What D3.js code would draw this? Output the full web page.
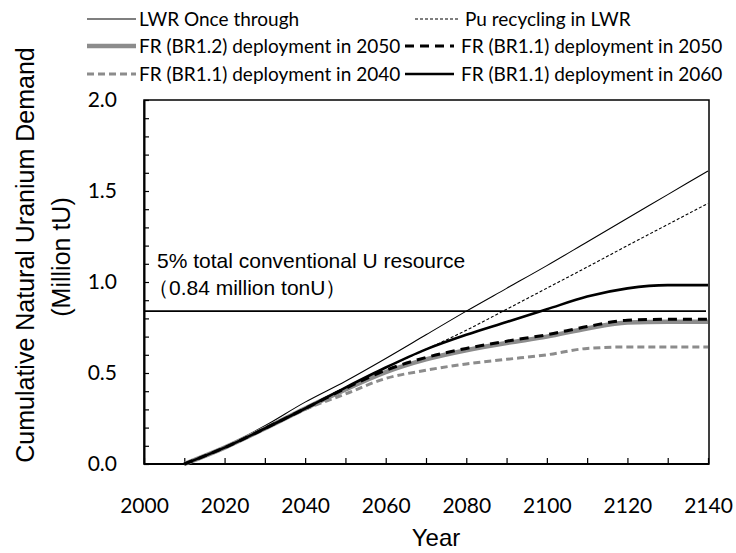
<!DOCTYPE html>
<html>
<head>
<meta charset="utf-8">
<script src="https://cdn.jsdelivr.net/npm/d3@7"></script>
<style>
body { margin: 0; background: #fff; }
svg { display: block; }
</style>
</head>
<body>
<svg id="chart" width="736" height="553"></svg>
<script>
// values, one point every 10 years
const years = [2010, 2020, 2030, 2040, 2050, 2060, 2070, 2080, 2090, 2100, 2110, 2120, 2130, 2140]
const lwrOnce   = [0, 0.095, 0.21, 0.34, 0.455, 0.58, 0.71, 0.84, 0.965, 1.09, 1.22, 1.35, 1.48, 1.61]
const puRecycle = [0, 0.09, 0.195, 0.305, 0.42, 0.53, 0.63, 0.735, 0.85, 0.966, 1.082, 1.2, 1.316, 1.432]
const fr12y2050 = [0, 0.09, 0.195, 0.305, 0.41, 0.505, 0.575, 0.625, 0.665, 0.70, 0.745, 0.778, 0.782, 0.782]
const fr11y2050 = [0, 0.09, 0.195, 0.305, 0.415, 0.515, 0.585, 0.635, 0.675, 0.71, 0.755, 0.79, 0.795, 0.795]
const fr11y2040 = [0, 0.09, 0.195, 0.30, 0.385, 0.47, 0.515, 0.55, 0.575, 0.60, 0.635, 0.643, 0.643, 0.643]
const fr11y2060 = [0, 0.09, 0.195, 0.305, 0.42, 0.53, 0.63, 0.71, 0.78, 0.85, 0.92, 0.965, 0.983, 0.983]
const xLabels = [2000, 2020, 2040, 2060, 2080, 2100, 2120, 2140]
const yLabels = [0, 0.5, 1.0, 1.5, 2.0]
const resourceLimit = 0.84

const LEFT = 144, RIGHT = 708, TOP = 100, BOTTOM = 464
const TICK_FONT = "Lato, 'Liberation Sans', sans-serif"
const TITLE_FONT = "'Liberation Sans', Arial, sans-serif"

var svg = d3.select("#chart")

var x = d3.scaleLinear().domain([2000, 2140]).range([LEFT, RIGHT])
var y = d3.scaleLinear().domain([0, 2]).range([BOTTOM, TOP])

// series styles + legend slot (col, row)
var series = [
    { name: "LWR Once through", values: lwrOnce, color: "#000", width: 1.1, dash: null, col: 0, row: 0 },
    { name: "Pu recycling in LWR", values: puRecycle, color: "#000", width: 1.1, dash: "3,2", col: 1, row: 0 },
    { name: "FR (BR1.2) deployment in 2050", values: fr12y2050, color: "#8c8c8c", width: 4.5, dash: null, col: 0, row: 1 },
    { name: "FR (BR1.1) deployment in 2040", values: fr11y2040, color: "#8c8c8c", width: 3, dash: "7,4", col: 0, row: 2 },
    { name: "FR (BR1.1) deployment in 2060", values: fr11y2060, color: "#000", width: 2.6, dash: null, col: 1, row: 2 },
    { name: "FR (BR1.1) deployment in 2050", values: fr11y2050, color: "#000", width: 3, dash: "9,6", col: 1, row: 1 }
]

// plot frame (top / right sides)
svg.append("rect")
    .attr("x", LEFT).attr("y", TOP)
    .attr("width", RIGHT + 1 - LEFT).attr("height", BOTTOM - TOP)
    .attr("fill", "none")
    .attr("stroke", "#000")
    .attr("stroke-width", 1.5)

// x axis, ticks pointing inward
var xAxis = d3.axisBottom(x)
    .tickValues(d3.range(2000, 2141, 10))
    .tickSize(-6)
    .tickSizeOuter(0)
    .tickPadding(34)
    .tickFormat(d => xLabels.indexOf(d) >= 0 ? d : "")
var gx = svg.append("g")
    .attr("transform", "translate(0," + BOTTOM + ")")
    .call(xAxis)
gx.select(".domain").attr("stroke-width", 2).attr("d", "M" + LEFT + ",0H" + (RIGHT + 1))
gx.selectAll(".tick line").attr("stroke-width", 1.2)
gx.selectAll("text").attr("font-family", TICK_FONT).attr("font-size", 21).attr("fill", "#000")

// y axis
var yAxis = d3.axisLeft(y)
    .tickValues(d3.range(0, 21).map(d => d / 10))
    .tickSize(-5)
    .tickSizeOuter(0)
    .tickPadding(27)
    .tickFormat(d => yLabels.some(v => Math.abs(v - d) < 1e-9) ? d3.format(".1f")(d) : "")
var gy = svg.append("g")
    .attr("transform", "translate(" + LEFT + ",0)")
    .call(yAxis)
gy.select(".domain").attr("stroke-width", 2)
gy.selectAll(".tick line").attr("stroke-width", 1.2)
gy.selectAll("text").attr("font-family", TICK_FONT).attr("font-size", 21).attr("fill", "#000")

// 5% conventional resource line
svg.append("line")
    .attr("x1", x(2000)).attr("x2", x(2140) - 2)
    .attr("y1", y(resourceLimit)).attr("y2", y(resourceLimit))
    .attr("stroke", "#000")
    .attr("stroke-width", 1.8)

svg.append("text")
    .attr("x", 157).attr("y", 268)
    .attr("font-family", TITLE_FONT)
    .attr("font-size", 21)
    .text("5% total conventional U resource")
svg.append("text")
    .attr("x", 148).attr("y", 295)
    .attr("font-family", TITLE_FONT)
    .attr("font-size", 21)
    .text("（0.84 million tonU）")

// series lines
var line = d3.line()
    .x((d, i) => x(years[i]))
    .y(d => y(d))
    .curve(d3.curveMonotoneX)

svg.append("g").selectAll("path")
    .data(series)
    .enter().append("path")
    .attr("d", d => line(d.values))
    .attr("fill", "none")
    .attr("stroke", d => d.color)
    .attr("stroke-width", d => d.width)
    .attr("stroke-dasharray", d => d.dash)
    .attr("stroke-linejoin", "round")

// legend
const LEG_ROW_Y = [19, 46, 74]
const LEG_COL_X = [87, 405]
var legend = svg.append("g").selectAll("g")
    .data(series)
    .enter().append("g")
    .attr("transform", d => "translate(" + LEG_COL_X[d.col] + "," + LEG_ROW_Y[d.row] + ")")
legend.append("line")
    .attr("x1", d => d.col == 1 && d.row == 0 ? 10 : 0)
    .attr("x2", d => d.col == 1 && d.row == 0 ? 55 : 49)
    .attr("stroke", d => d.color)
    .attr("stroke-width", d => d.width)
    .attr("stroke-dasharray", d => d.dash)
legend.append("text")
    .attr("x", d => d.col == 0 ? 52 : (d.row == 0 ? 60 : 56))
    .attr("dy", "0.35em")
    .attr("font-family", TICK_FONT)
    .attr("font-size", 19)
    .text(d => d.name)

// axis titles
svg.append("text")
    .attr("transform", "translate(34,255) rotate(-90)")
    .attr("text-anchor", "middle")
    .attr("font-family", TITLE_FONT)
    .attr("font-size", 25)
    .text("Cumulative Natural Uranium Demand")
svg.append("text")
    .attr("transform", "translate(70,257) rotate(-90)")
    .attr("text-anchor", "middle")
    .attr("font-family", TITLE_FONT)
    .attr("font-size", 25)
    .text("(Million tU)")
svg.append("text")
    .attr("x", 436).attr("y", 546)
    .attr("text-anchor", "middle")
    .attr("font-family", TITLE_FONT)
    .attr("font-size", 24)
    .text("Year")
</script>
</body>
</html>
